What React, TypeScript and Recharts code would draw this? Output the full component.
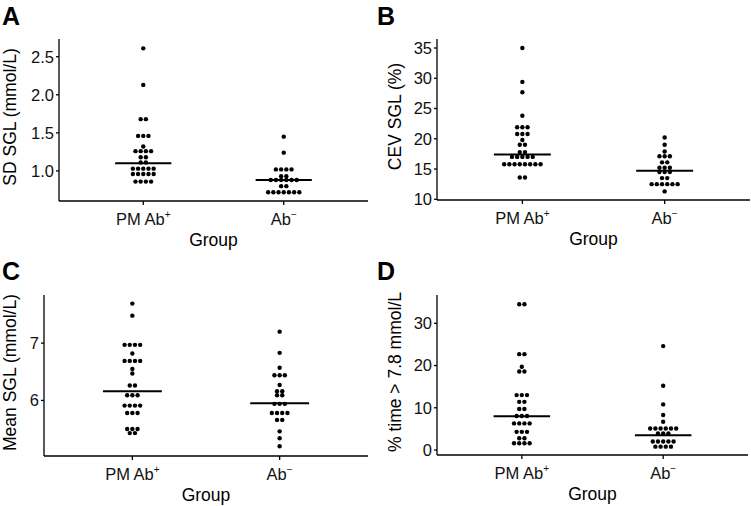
import React from 'react';
import { ScatterChart, Scatter, XAxis, YAxis, ReferenceLine, Label } from 'recharts';

// group names on the x axis, superscript sign kept apart so it can be raised
const categories = ['PM Ab', 'Ab'];
const categorySup = ['+', '\u2212'];

// A: SD SGL (mmol/L)
const sdPos = [2.61, 2.13, 1.68, 1.68, 1.46, 1.46, 1.46, 1.32, 1.26, 1.26, 1.26, 1.26, 1.18, 1.18, 1.11, 1.11,
  1.03, 1.03, 1.03, 1.03, 1.03, 0.96, 0.96, 0.96, 0.96, 0.96, 0.86, 0.86, 0.86, 0.86];
const sdNeg = [1.45, 1.24, 1.02, 1.02, 1.02, 1.02, 0.93, 0.93, 0.88, 0.88, 0.88, 0.88, 0.88, 0.88,
  0.8, 0.8, 0.72, 0.72, 0.72, 0.72, 0.72, 0.72, 0.72];
const sdMedians = [1.1, 0.88];
const sdTicks = [1.0, 1.5, 2.0, 2.5];

// B: CEV SGL (%)
const cevPos = [35.0, 29.4, 27.7, 23.8, 21.9, 21.9, 21.9, 20.8, 20.8, 20.8, 19.8, 19.0, 19.0, 17.8, 17.8,
  17.0, 17.0, 17.0, 17.0, 17.0, 15.8, 15.8, 15.8, 15.8, 15.8, 15.8, 15.8, 15.8, 13.6, 13.6];
const cevNeg = [20.2, 19.0, 17.9, 17.1, 17.1, 17.1, 16.1, 16.1, 15.2, 15.2, 15.2, 14.5, 14.5, 14.5,
  13.5, 13.5, 12.5, 12.5, 12.5, 12.5, 12.5, 12.5, 11.3];
const cevMedians = [17.4, 14.7];
const cevTicks = [10, 15, 20, 25, 30, 35];

// C: Mean SGL (mmol/L)
const meanPos = [7.69, 7.48, 6.97, 6.97, 6.97, 6.97, 6.82, 6.69, 6.69, 6.69, 6.69, 6.55, 6.47, 6.26, 6.26,
  6.09, 6.09, 6.09, 5.91, 5.91, 5.91, 5.91, 5.78, 5.78, 5.78, 5.5, 5.5, 5.5, 5.43, 5.43];
const meanNeg = [7.2, 6.83, 6.57, 6.44, 6.44, 6.44, 6.27, 6.16, 6.16, 6.09, 6.09, 5.94, 5.94, 5.94,
  5.78, 5.78, 5.78, 5.78, 5.66, 5.66, 5.46, 5.34, 5.2];
const meanMedians = [6.16, 5.95];
const meanTicks = [6, 7];

// D: % time > 7.8 mmol/L
const timePos = [34.5, 34.5, 22.7, 22.7, 19.7, 18.6, 18.6, 13.0, 13.0, 13.0, 11.4, 11.4, 9.7, 9.7,
  8.06, 8.06, 8.06, 6.3, 6.3, 6.3, 6.3, 4.3, 4.3, 4.3, 2.8, 2.8, 1.6, 1.6, 1.6, 1.6];
const timeNeg = [24.6, 15.2, 10.8, 8.3, 6.7, 5.1, 5.1, 5.1, 5.1, 5.1, 5.1, 3.9, 3.9, 3.9,
  2.0, 2.0, 2.0, 2.0, 2.0, 0.8, 0.8, 0.8, 0.8];
const timeMedians = [8.0, 3.5];
const timeTicks = [0, 10, 20, 30];

const FONT = '"Liberation Sans", Arial, Helvetica, sans-serif';
const DOT_GAP = 5.2;
const TICK_SIZE = 16.5;
const TITLE_SIZE = 17.5;

// equal values share a row, centred on the group like a dotplot
function stack(values: number[], group: number) {
  const rows = new Map<number, number>();
  values.forEach((v) => rows.set(v, (rows.get(v) || 0) + 1));
  const pts: any[] = [];
  rows.forEach((n, v) => {
    for (let i = 0; i < n; i++) pts.push({ x: group, y: v, k: i - (n - 1) / 2 });
  });
  return pts;
}

const Dot = (p: any) => (
  <circle cx={p.cx + (p.payload?.k || 0) * DOT_GAP} cy={p.cy} r={2.2} fill="#000" />
);

const CatTick = (p: any) => {
  const i = Math.round(p.payload.value) - 1;
  return (
    <text x={p.x} y={p.y + 17.5} textAnchor="middle" fontSize={TICK_SIZE} fill="#111" fontFamily={FONT}>
      <tspan>{categories[i]}</tspan>
      <tspan fontSize={10} dy={-6.5}>{categorySup[i]}</tspan>
    </text>
  );
};

function Panel(props: any) {
  const { left, top, width, height, margin, yWidth, xHeight, domain, ticks, fmt, title, pos, neg, medians, titleX } = props;
  return (
    <div style={{ position: 'absolute', left, top, width, height }}>
      <ScatterChart width={width} height={height} margin={margin} style={{ fontFamily: FONT }}>
        <XAxis
          type="number"
          dataKey="x"
          domain={[0.4, 2.6]}
          ticks={[1, 2]}
          allowDataOverflow
          height={xHeight}
          tickSize={4}
          tick={<CatTick />}
          axisLine={{ stroke: '#000', strokeWidth: 1.3 }}
          tickLine={{ stroke: '#000', strokeWidth: 1.3 }}
        >
          <Label
            content={(lp: any) => {
              const vb = lp.viewBox || {};
              return (
                <text x={vb.x + vb.width / 2} y={vb.y + 45} textAnchor="middle" fontSize={TITLE_SIZE} fill="#000" fontFamily={FONT}>
                  Group
                </text>
              );
            }}
          />
        </XAxis>
        <YAxis
          type="number"
          dataKey="y"
          domain={domain}
          ticks={ticks}
          allowDataOverflow
          width={yWidth}
          tickSize={3}
          tickMargin={2}
          tickFormatter={fmt}
          tick={{ fontSize: TICK_SIZE, fill: '#111', fontFamily: FONT }}
          axisLine={{ stroke: '#000', strokeWidth: 1.3 }}
          tickLine={{ stroke: '#000', strokeWidth: 1.3 }}
        >
          <Label
            content={(lp: any) => {
              const vb = lp.viewBox || {};
              const cx = vb.x + titleX;
              const cy = vb.y + vb.height / 2 - 3;
              return (
                <text
                  x={cx}
                  y={cy}
                  transform={`rotate(-90 ${cx} ${cy})`}
                  textAnchor="middle"
                  dominantBaseline="central"
                  fontSize={TITLE_SIZE}
                  fill="#000"
                  fontFamily={FONT}
                >
                  {title}
                </text>
              );
            }}
          />
        </YAxis>
        <Scatter data={stack(pos, 1)} shape={<Dot />} isAnimationActive={false} />
        <Scatter data={stack(neg, 2)} shape={<Dot />} isAnimationActive={false} />
        {medians.map((m: number, i: number) => (
          <ReferenceLine
            key={i}
            segment={[{ x: i + 0.8, y: m }, { x: i + 1.2, y: m }]}
            stroke="#000"
            strokeWidth={2}
          />
        ))}
      </ScatterChart>
    </div>
  );
}

const letters = [
  { t: 'A', x: 2, y: 25 },
  { t: 'B', x: 377, y: 25 },
  { t: 'C', x: 2, y: 280 },
  { t: 'D', x: 377, y: 280 },
];

export default function App() {
  return (
    <div style={{ position: 'absolute', left: 0, top: 0, width: 751, height: 506, background: '#fff', overflow: 'hidden' }}>
      <Panel
        left={0} top={0} width={375} height={253}
        margin={{ top: 39, right: 7, bottom: 0, left: 0 }}
        yWidth={59} xHeight={52}
        domain={[0.605, 2.733]} ticks={sdTicks} fmt={(v: number) => v.toFixed(1)}
        title="SD SGL (mmol/L)" titleX={10}
        pos={sdPos} neg={sdNeg} medians={sdMedians}
      />
      <Panel
        left={375} top={0} width={376} height={253}
        margin={{ top: 39, right: 1, bottom: 0, left: 0 }}
        yWidth={62} xHeight={53}
        domain={[9.88, 36.49]} ticks={cevTicks} fmt={(v: number) => String(v)}
        title="CEV SGL (%)" titleX={20}
        pos={cevPos} neg={cevNeg} medians={cevMedians}
      />
      <Panel
        left={0} top={253} width={375} height={253}
        margin={{ top: 42, right: 7, bottom: 0, left: 0 }}
        yWidth={44} xHeight={50}
        domain={[5.03, 7.84]} ticks={meanTicks} fmt={(v: number) => String(v)}
        title="Mean SGL (mmol/L)" titleX={10}
        pos={meanPos} neg={meanNeg} medians={meanMedians}
      />
      <Panel
        left={375} top={253} width={376} height={253}
        margin={{ top: 42, right: 3, bottom: 0, left: 0 }}
        yWidth={62} xHeight={51}
        domain={[-1.18, 36.7]} ticks={timeTicks} fmt={(v: number) => String(v)}
        title="% time > 7.8 mmol/L" titleX={20}
        pos={timePos} neg={timeNeg} medians={timeMedians}
      />
      <svg width={751} height={506} style={{ position: 'absolute', left: 0, top: 0, pointerEvents: 'none' }}>
        {letters.map((l) => (
          <text key={l.t} x={l.x} y={l.y} fontSize={25} fontWeight="bold" fontFamily={FONT} fill="#000">
            {l.t}
          </text>
        ))}
      </svg>
    </div>
  );
}
